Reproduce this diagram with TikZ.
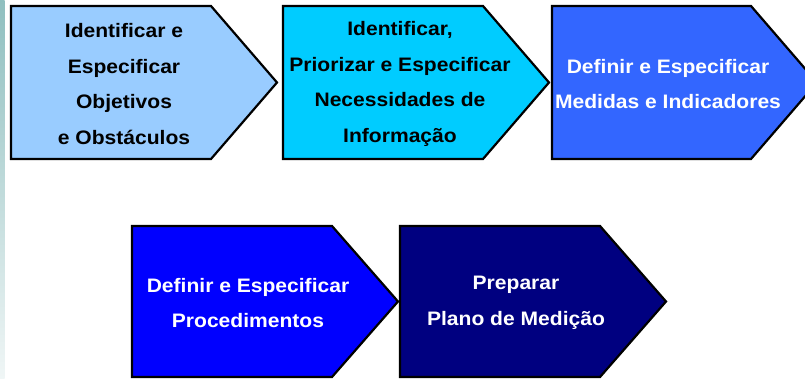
\documentclass[tikz,border=0pt]{standalone}
\usepackage{fontspec}
\setmainfont{Liberation Sans}
\definecolor{cone}{HTML}{99CCFF}
\definecolor{ctwo}{HTML}{00CCFF}
\definecolor{cthree}{HTML}{3366FF}
\definecolor{cfour}{HTML}{0000FF}
\definecolor{cfive}{HTML}{000080}
\definecolor{striptop}{HTML}{8FBFBF}
\definecolor{stripbot}{HTML}{F0F6F6}
\newcommand\wline[1]{\scalebox{1.08}[1]{#1}}
\begin{document}
\begin{tikzpicture}[x=1pt,y=-1pt,
  stepshape/.style={draw=black, line width=2.2pt, line join=miter},
  lbl/.style={align=center, font=\fontsize{19.5}{35.5}\selectfont\bfseries, inner sep=0pt},
]
\useasboundingbox (0,0) rectangle (805,379);
\fill[white] (0,0) rectangle (805,379);
\shade[top color=striptop, bottom color=stripbot] (0,0) rectangle (4.5,379);

\draw[stepshape, fill=cone]   (11,6) -- (211,6) -- (277,82.5) -- (211,159) -- (11,159) -- cycle;
\draw[stepshape, fill=ctwo]   (283,6) -- (483,6) -- (549,82.5) -- (483,159) -- (283,159) -- cycle;
\draw[stepshape, fill=cthree] (552,6) -- (751,6) -- (817,82.5) -- (751,159) -- (552,159) -- cycle;
\draw[stepshape, fill=cfour]  (132,226) -- (332,226) -- (398,301.5) -- (332,377) -- (132,377) -- cycle;
\draw[stepshape, fill=cfive]  (400,226) -- (600,226) -- (666,301.5) -- (600,377) -- (400,377) -- cycle;

\node[lbl, text=black] (t1) at (124,84) {\wline{Identificar e}\\\wline{Especificar}\\\wline{Objetivos}\\\wline{e Obstáculos}};
\node[lbl, text=black] (t2) at (400,84) {\wline{Identificar,}\\\wline{Priorizar e Especificar}\\\wline{Necessidades de}\\\wline{Informação}};
\node[lbl, text=white] (t3) at (668,84) {\wline{Definir e Especificar}\\\wline{Medidas e Indicadores}};
\node[lbl, text=white] (t4) at (248,303) {\wline{Definir e Especificar}\\\wline{Procedimentos}};
\node[lbl, text=white] (t5) at (516,303) {\wline{Preparar}\\\wline{Plano de Medição}};
\end{tikzpicture}
\end{document}
